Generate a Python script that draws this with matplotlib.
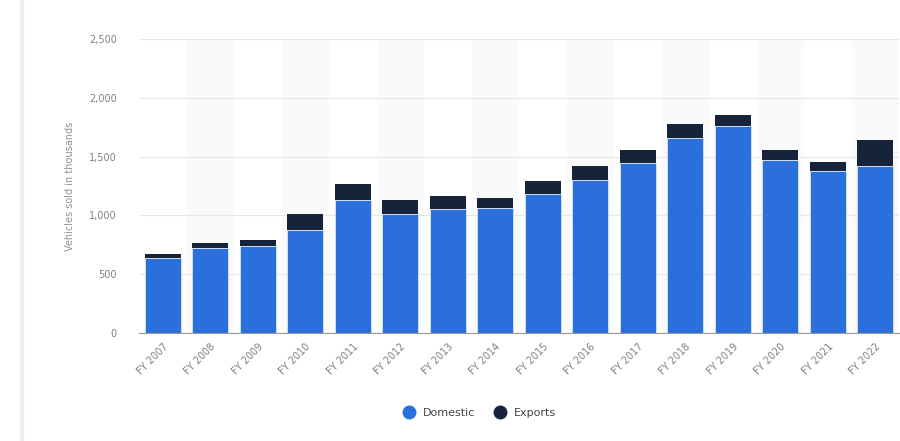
import matplotlib.pyplot as plt
import numpy as np
from matplotlib.lines import Line2D

# data (thousands of vehicles)
years = ["FY 2007", "FY 2008", "FY 2009", "FY 2010", "FY 2011", "FY 2012", "FY 2013", "FY 2014",
         "FY 2015", "FY 2016", "FY 2017", "FY 2018", "FY 2019", "FY 2020", "FY 2021", "FY 2022"]
domestic = [635, 720, 740, 875, 1135, 1016, 1053, 1064, 1180, 1305, 1448, 1657, 1756, 1468, 1375, 1420]
exports = [34, 42, 48, 141, 130, 113, 116, 85, 110, 115, 110, 116, 99, 84, 79, 223]

blue = "#2a6fdb"
navy = "#15243b"

fig = plt.figure(figsize=(9, 4.41), dpi=100)
ax = fig.add_axes([139 / 900, 1 - 333 / 441, 760 / 900, 294 / 441])

x = np.arange(len(years))

# faint alternating column bands
for i in x:
    if i % 2 == 1:
        ax.axvspan(i - 0.5, i + 0.5, color="#fafafa", zorder=0, lw=0)

ax.bar(x, domestic, width=0.76, color=blue, edgecolor="#d8e4f8", linewidth=0.6, zorder=3)
ax.bar(x, exports, width=0.76, bottom=domestic, color=navy, linewidth=0, zorder=3)

ax.set_xlim(-0.5, len(years) - 0.5)
ax.set_ylim(0, 2500)
ax.set_yticks([0, 500, 1000, 1500, 2000, 2500])
ax.set_yticklabels(["0", "500", "1,000", "1,500", "2,000", "2,500"])
ax.grid(axis="y", color="#e8e8e8", linewidth=0.8, zorder=1)
ax.set_axisbelow(True)

for s in ["top", "right", "left"]:
    ax.spines[s].set_visible(False)
ax.spines["bottom"].set_color("#999999")
ax.spines["bottom"].set_zorder(4)

ax.tick_params(axis="y", length=0, labelsize=7, labelcolor="#808080", pad=16)
ax.tick_params(axis="x", length=0, labelsize=7, labelcolor="#808080", pad=6)
ax.set_xticks(x)
ax.set_xticklabels(years, rotation=45, ha="right", rotation_mode="anchor")

ax.set_ylabel("Vehicles sold in thousands", fontsize=7, color="#909090", labelpad=10)

# card border at the left
fig.add_artist(Line2D([22 / 900, 22 / 900], [0, 1], color="#eeeeee", lw=3))

handles = [Line2D([], [], marker="o", ls="", color=blue, markersize=9),
           Line2D([], [], marker="o", ls="", color=navy, markersize=9)]
fig.legend(handles, ["Domestic", "Exports"], loc="center", bbox_to_anchor=(477 / 900, 1 - 413 / 441),
           ncol=2, frameon=False, fontsize=8, labelcolor="#444444", handletextpad=0.3, columnspacing=1.2)

fig.savefig("out.png", dpi=100, facecolor="white")
